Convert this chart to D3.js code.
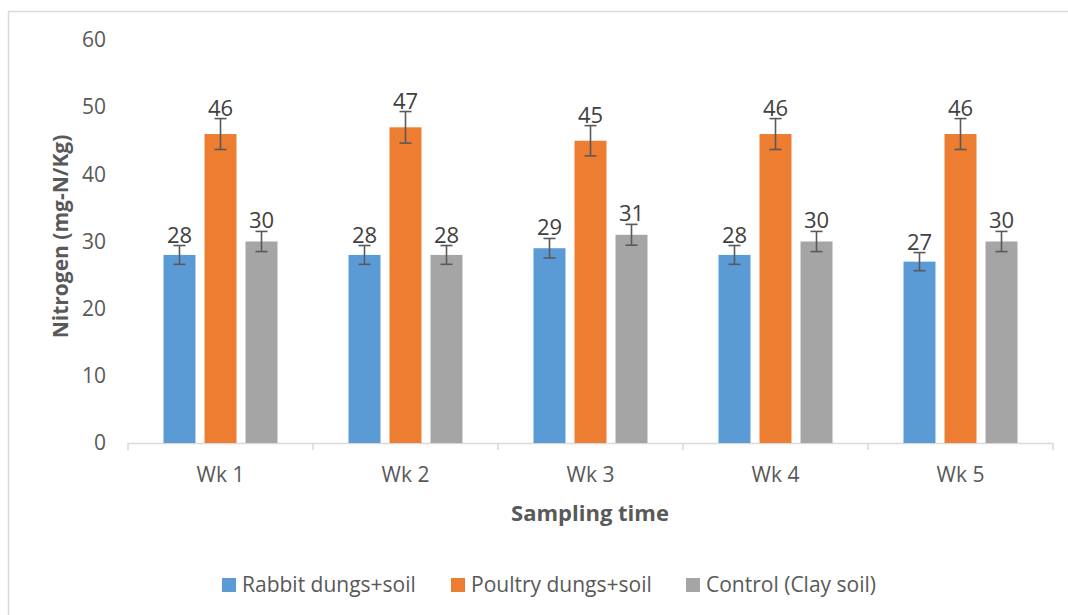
<!DOCTYPE html>
<html>
<head>
<meta charset="utf-8">
<script src="https://cdn.jsdelivr.net/npm/d3@7"></script>
<style>
  html, body { margin: 0; padding: 0; background: #fff; }
  svg { display: block; font-family: "Open Sans", sans-serif; }
</style>
</head>
<body>
<svg id="chart" width="1068" height="615"></svg>
<script>
const weeks = ["Wk 1", "Wk 2", "Wk 3", "Wk 4", "Wk 5"];
const seriesNames = ["Rabbit dungs+soil", "Poultry dungs+soil", "Control (Clay soil)"];
const rabbit = [28, 28, 29, 28, 27];
const poultry = [46, 47, 45, 46, 46];
const control = [30, 28, 31, 30, 30];
const yTicks = [0, 10, 20, 30, 40, 50, 60];
const errPct = 0.05; // 5% error bars

const colors = ["#5B9BD5", "#ED7D31", "#A5A5A5"];
const series = [rabbit, poultry, control];
const FONT = "'Open Sans', sans-serif";

const svg = d3.select("#chart");
const m = { left: 128, right: 15, top: 40, bottom: 172 };
const W = 1068, H = 615;

// outer frame
svg.append("rect")
  .attr("x", 8.5).attr("y", 11.5)
  .attr("width", W).attr("height", H)
  .attr("fill", "none").attr("stroke", "#d9d9d9").attr("stroke-width", 1.5);

const x = d3.scaleBand().domain(weeks).range([m.left, W - m.right]);
const y = d3.scaleLinear().domain([0, 60]).range([H - m.bottom, m.top]);
const inner = d3.scaleBand().domain(d3.range(3)).range([0, 114]).paddingInner(0.22);

// y tick labels (no axis line)
const yAxis = svg.append("g")
  .attr("transform", `translate(${m.left},0)`)
  .call(d3.axisLeft(y).tickValues(yTicks).tickSize(0).tickPadding(22));
yAxis.select(".domain").remove();
yAxis.selectAll("text").attr("fill", "#595959").style("font-size", "21px")
  .style("font-family", FONT);

// x axis
const xAxis = svg.append("g")
  .attr("transform", `translate(0,${y(0)})`)
  .call(d3.axisBottom(x).tickSize(0).tickPadding(24));
xAxis.select(".domain").attr("stroke", "#d9d9d9").attr("stroke-width", 1.5);
xAxis.selectAll("text").attr("fill", "#595959").style("font-size", "21px")
  .style("font-family", FONT);
// boundary ticks
const bounds = weeks.map(w => x(w)).concat([x(weeks[weeks.length - 1]) + x.bandwidth()]);
xAxis.selectAll("line.bnd").data(bounds).enter().append("line")
  .attr("class", "bnd")
  .attr("x1", d => d).attr("x2", d => d)
  .attr("y1", 0).attr("y2", 7)
  .attr("stroke", "#d9d9d9").attr("stroke-width", 1.5);

// bars
const groups = svg.append("g").selectAll("g")
  .data(weeks).enter().append("g")
  .attr("transform", w => `translate(${x(w) + (x.bandwidth() - 114) / 2},0)`);

series.forEach((vals, si) => {
  groups.append("rect")
    .attr("x", inner(si))
    .attr("width", inner.bandwidth())
    .attr("y", (w, i) => y(vals[i]))
    .attr("height", (w, i) => y(0) - y(vals[i]))
    .attr("fill", colors[si]);

  const cx = inner(si) + inner.bandwidth() / 2;
  // error bars
  const eb = groups.append("g").attr("stroke", "#595959").attr("stroke-width", 1.6);
  eb.append("line")
    .attr("x1", cx).attr("x2", cx)
    .attr("y1", (w, i) => y(vals[i] * (1 + errPct)))
    .attr("y2", (w, i) => y(vals[i] * (1 - errPct)));
  [1 + errPct, 1 - errPct].forEach(f => {
    eb.append("line")
      .attr("x1", cx - 6).attr("x2", cx + 6)
      .attr("y1", (w, i) => y(vals[i] * f))
      .attr("y2", (w, i) => y(vals[i] * f));
  });

  // data labels
  groups.append("text")
    .attr("x", cx)
    .attr("y", (w, i) => y(vals[i] * (1 + errPct)) - 3)
    .attr("text-anchor", "middle")
    .attr("fill", "#404040")
    .style("font-size", "22px")
    .text((w, i) => vals[i]);
});

// axis titles
svg.append("text")
  .attr("transform", `translate(68,${(y(0) + y(60)) / 2 - 5}) rotate(-90)`)
  .attr("text-anchor", "middle")
  .attr("fill", "#595959")
  .style("font-size", "21px").style("font-weight", "bold")
  .text("Nitrogen (mg-N/Kg)");

svg.append("text")
  .attr("x", 590)
  .attr("y", 521)
  .attr("text-anchor", "middle")
  .attr("fill", "#595959")
  .style("font-size", "22px").style("font-weight", "bold")
  .text("Sampling time");

// legend
const legX = [222, 451, 686];
const leg = svg.append("g").selectAll("g")
  .data(seriesNames).enter().append("g")
  .attr("transform", (d, i) => `translate(${legX[i]},582)`);
leg.append("rect")
  .attr("x", 0).attr("y", -4).attr("width", 14).attr("height", 14)
  .attr("fill", (d, i) => colors[i]);
leg.append("text")
  .attr("x", 20).attr("y", 10)
  .attr("fill", "#595959")
  .style("font-size", "21px")
  .text(d => d);
</script>
</body>
</html>
